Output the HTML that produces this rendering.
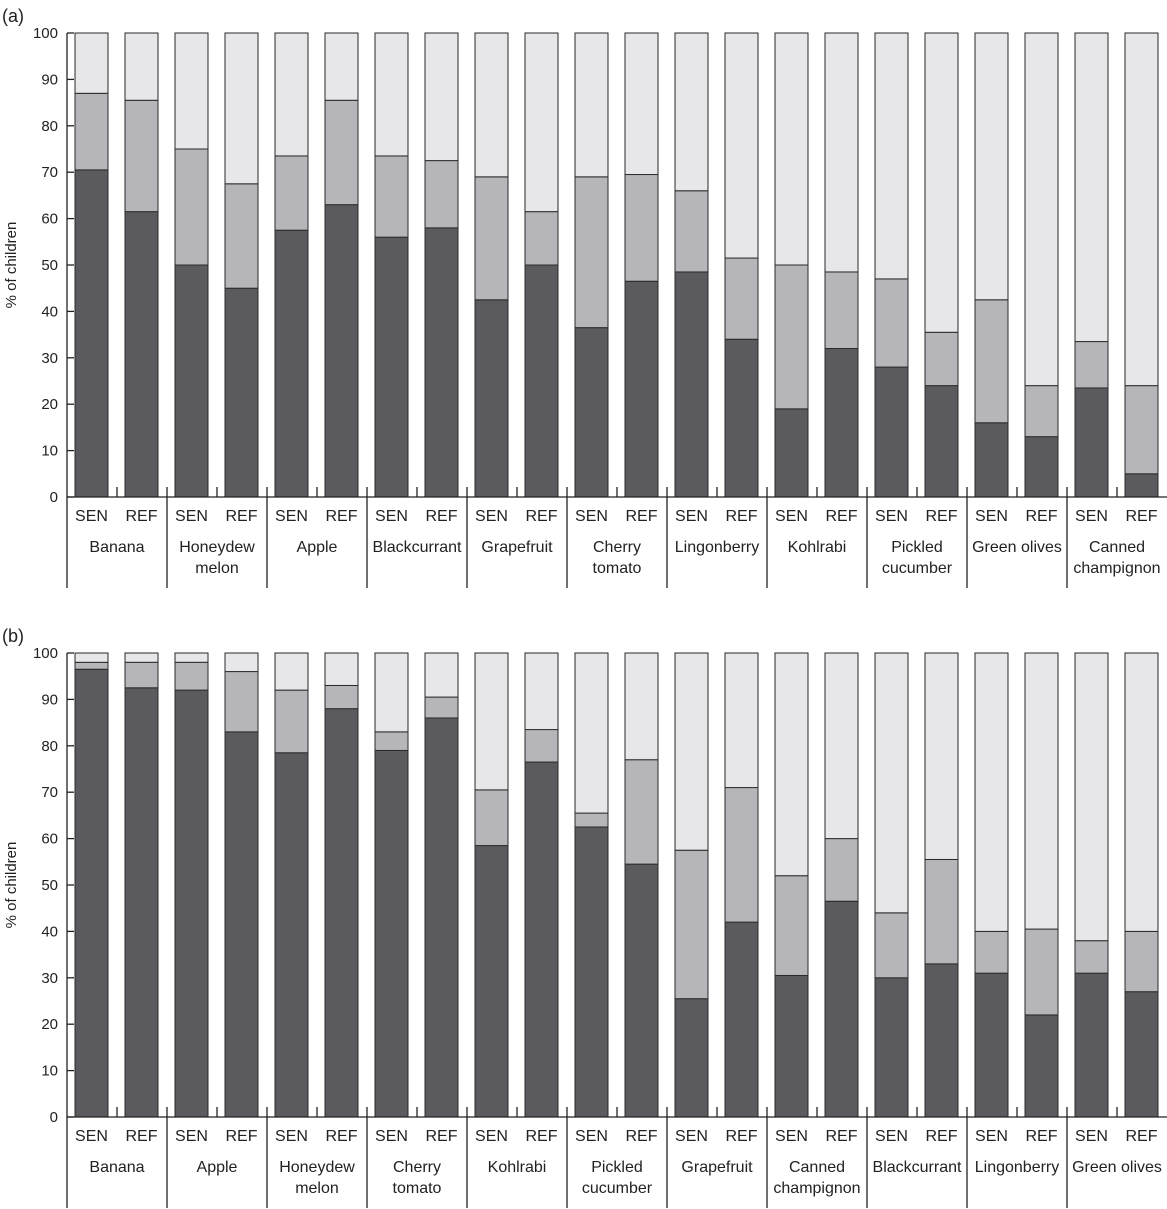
<!DOCTYPE html>
<html><head><meta charset="utf-8"><style>
body{margin:0;background:#fff;}
svg{display:block;font-family:"Liberation Sans",Arial,sans-serif;}
</style></head><body>
<svg id="chart" width="1167" height="1209" xmlns="http://www.w3.org/2000/svg"></svg>
<script>
const catsA = ["Banana","Honeydew\nmelon","Apple","Blackcurrant","Grapefruit","Cherry\ntomato","Lingonberry","Kohlrabi","Pickled\ncucumber","Green olives","Canned\nchampignon"];
const darkA = [70.5,61.5, 50,45, 57.5,63, 56,58, 42.5,50, 36.5,46.5, 48.5,34, 19,32, 28,24, 16,13, 23.5,5];
const midA  = [16.5,24, 25,22.5, 16,22.5, 17.5,14.5, 26.5,11.5, 32.5,23, 17.5,17.5, 31,16.5, 19,11.5, 26.5,11, 10,19];
const catsB = ["Banana","Apple","Honeydew\nmelon","Cherry\ntomato","Kohlrabi","Pickled\ncucumber","Grapefruit","Canned\nchampignon","Blackcurrant","Lingonberry","Green olives"];
const darkB = [96.5,92.5, 92,83, 78.5,88, 79,86, 58.5,76.5, 62.5,54.5, 25.5,42, 30.5,46.5, 30,33, 31,22, 31,27];
const midB  = [1.5,5.5, 6,13, 13.5,5, 4,4.5, 12,7, 3,22.5, 32,29, 21.5,13.5, 14,22.5, 9,18.5, 7,13];
const groups = ["SEN","REF"];
const yTicks = [0,10,20,30,40,50,60,70,80,90,100];

const svg = document.getElementById('chart');
const NS = "http://www.w3.org/2000/svg";
function mk(tag, attrs, parent){const e=document.createElementNS(NS,tag);for(const k in attrs)e.setAttribute(k,attrs[k]);(parent||svg).appendChild(e);return e;}

function panel(label, top, cats, dark, mid, key){
  const x0=67, bottom=top+464, catW=100;
  const y = v => bottom - v*4.64;
  const g = mk('g',{});
  
  
  const pl = mk('text',{x:2,y:top-11,'font-size':18,fill:'#222'},g); pl.textContent=label;
  
  
  const yt = mk('text',{transform:`translate(16,${(top+bottom)/2}) rotate(-90)`,'text-anchor':'middle','font-size':15,fill:'#222'},g);
  yt.textContent='% of children';
  
  
  yTicks.forEach(t=>{
    mk('line',{x1:x0,x2:x0+7,y1:y(t),y2:y(t),stroke:'#222','stroke-width':1.3},g);
    const tl=mk('text',{x:58,y:y(t)+5,'text-anchor':'end','font-size':15,fill:'#222'},g);
    tl.textContent=t;
    
    
  });
  cats.forEach((c,i)=>{
    const cx=x0+i*catW;
    groups.forEach((gr,j)=>{
      const idx=i*2+j, bx=cx+8+j*50, bw=33;
      const d=dark[idx], m=mid[idx];
      const segs=[[0,d,'#5b5b5f'],[d,d+m,'#b6b6ba'],[d+m,100,'#e7e7e9']];
      segs.forEach((s,k)=>{
        const r=mk('rect',{x:bx,y:y(s[1]),width:bw,height:Math.max(0,y(s[0])-y(s[1])),fill:s[2],stroke:'#2a2a2a','stroke-width':1},g);
        
        
      });
      const gl=mk('text',{x:bx+bw/2,y:bottom+24,'text-anchor':'middle','font-size':16,fill:'#222'},g);
      gl.textContent=gr;
      
      
    });
    mk('line',{x1:cx+50,x2:cx+50,y1:bottom-10,y2:bottom,stroke:'#222','stroke-width':1.3},g);
    if(i>0) mk('line',{x1:cx,x2:cx,y1:bottom-10,y2:bottom+91,stroke:'#222','stroke-width':1.3},g);
    c.split('\n').forEach((ln,k)=>{
      const t=mk('text',{x:cx+50,y:bottom+55+k*21,'text-anchor':'middle','font-size':16,fill:'#222'},g);
      t.textContent=ln;
      
      
    });
  });
  mk('line',{x1:x0,x2:x0,y1:top,y2:bottom+91,stroke:'#222','stroke-width':1.3},g);
  mk('line',{x1:x0,x2:1167,y1:bottom,y2:bottom,stroke:'#222','stroke-width':1.3},g);
}
panel('(a)',33,catsA,darkA,midA,'a');
panel('(b)',653,catsB,darkB,midB,'b');
</script>
</body></html>
